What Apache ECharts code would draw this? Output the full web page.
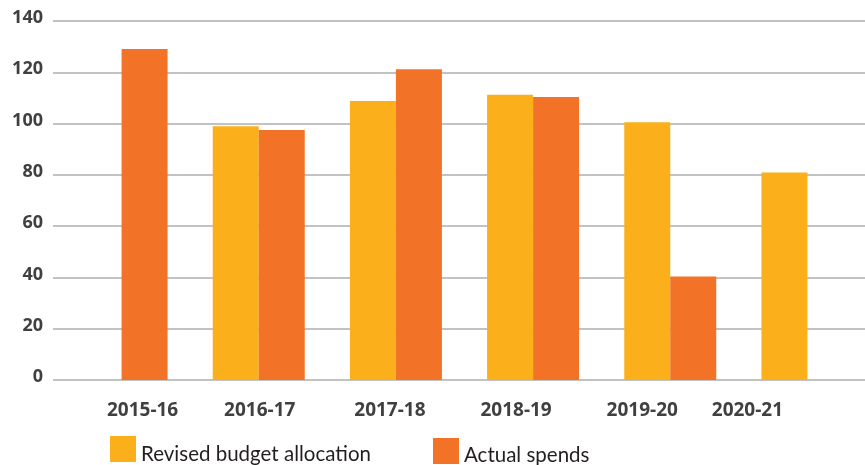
<!DOCTYPE html>
<html>
<head>
<meta charset="utf-8">
<script src="https://cdn.jsdelivr.net/npm/echarts@6/dist/echarts.min.js"></script>
<style>html,body{margin:0;padding:0;background:#fff;overflow:hidden}#c{width:876px;height:465px}</style>
</head>
<body>
<div id="c"></div>
<script>
var categories = ['2015-16', '2016-17', '2017-18', '2018-19', '2019-20', '2020-21'];
var revisedBudget = [null, 99, 108.8, 111.2, 100.5, 80.9];
var actualSpends = [129.1, 97.5, 121.2, 110.4, 40.4, null];
var yTicks = [0, 20, 40, 60, 80, 100, 120, 140];
var seriesNames = ['Revised budget allocation', 'Actual spends'];
var labelShift = [21, 1, -6, -17, -28, -60];

var rich = {};
labelShift.forEach(function (d, i) {
  rich['c' + i] = {
    fontFamily: 'Open Sans', fontWeight: 'bold', fontSize: 19, color: '#404040',
    padding: d >= 0 ? [0, 0, 0, 2 * d] : [0, -2 * d, 0, 0]
  };
});

function legendText(pad) {
  return {
    formatter: function (n) { return '{t|' + n + '}'; },
    textStyle: {rich: {t: {fontFamily: 'Lato', fontSize: 20.5, color: '#231f20', padding: [pad, 0, 0, 0]}}}
  };
}

var chart = echarts.init(document.getElementById('c'), null, {renderer: 'canvas'});
var lg1 = legendText(11), lg2 = legendText(9);
chart.setOption({
  animation: false,
  grid: {left: 53, top: 21, bottom: 85, right: 0, containLabel: false},
  legend: [
    {data: [seriesNames[0]], left: 110, top: 436, padding: 0, itemWidth: 26, itemHeight: 26, icon: 'rect', itemGap: 0,
     formatter: lg1.formatter, textStyle: lg1.textStyle},
    {data: [seriesNames[1]], left: 433, top: 438, padding: 0, itemWidth: 26, itemHeight: 26, icon: 'rect', itemGap: 0,
     formatter: lg2.formatter, textStyle: lg2.textStyle}
  ],
  xAxis: {
    type: 'category', data: categories,
    axisLine: {show: false}, axisTick: {show: false},
    axisLabel: {
      margin: 21,
      formatter: function (v, i) { return '{c' + i + '|' + v + '}'; },
      rich: rich
    }
  },
  yAxis: {
    type: 'value', min: yTicks[0], max: yTicks[yTicks.length - 1], interval: 20,
    axisLine: {show: false}, axisTick: {show: false},
    splitLine: {lineStyle: {color: '#c2c2c2', width: 2}},
    axisLabel: {margin: 10, fontFamily: 'Open Sans', fontWeight: 'bold', fontSize: 18, color: '#404040', verticalAlign: 'bottom', lineHeight: 22, padding: [0, 0, -8, 0]}
  },
  series: [
    {name: seriesNames[0], type: 'bar', data: revisedBudget, barWidth: 46, barGap: '0%',
     itemStyle: {color: '#FBB01B'}},
    {name: seriesNames[1], type: 'bar', data: actualSpends, barWidth: 46, barGap: '0%',
     itemStyle: {color: '#F27327'}}
  ]
});
</script>
</body>
</html>
